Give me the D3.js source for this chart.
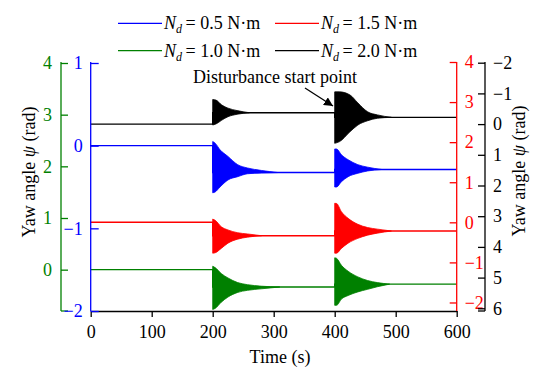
<!DOCTYPE html>
<html><head><meta charset="utf-8">
<script src="https://cdn.jsdelivr.net/npm/d3@7"></script>
<style>body{margin:0;background:#fff} text{font-family:"Liberation Serif","Times New Roman",serif}</style>
</head><body><svg id="c" width="550" height="386"></svg>
<script>
// ---------- data ----------
const xTicks = [0, 100, 200, 300, 400, 500, 600];
const blueTicks = [-2, -1, 0, 1];
const greenTicks = [0, 1, 2, 3, 4];
const redTicks = [-2, -1, 0, 1, 2, 3, 4];
const blackTicks = [-2, -1, 0, 1, 2, 3, 4, 5, 6];

const legendValues = ["0.5", "1.5", "1.0", "2.0"];
const disturbanceTimes = [200, 400];
const levelTimes = [0, 200, 400, 600];
// steady levels in the intervals [0,200], [200,400], [400,600]
const blueLevels = [0, -0.325, -0.288];
const redLevels = [0, -0.334, -0.217];
const greenLevels = [0, -0.335, -0.28];
const blackLevels = [0, -0.371, -0.22];
// oscillation envelopes: [seconds after disturbance, min, max]
const blueBurst200 = [[0,-0.57,0.05],[4,-0.56,0.03],[12,-0.50,-0.05],[25,-0.415,-0.13],[41,-0.375,-0.23],[57,-0.34,-0.27],[80,-0.33,-0.30],[107,-0.325,-0.325]];
const blueBurst400 = [[0,-0.50,-0.04],[3,-0.50,-0.04],[11,-0.436,-0.11],[22,-0.375,-0.17],[38,-0.334,-0.23],[54,-0.306,-0.26],[77,-0.288,-0.288]];
const redBurst200 = [[0,-0.77,0.08],[4,-0.76,0.05],[14,-0.65,-0.11],[25,-0.52,-0.19],[41,-0.42,-0.26],[57,-0.37,-0.29],[80,-0.334,-0.334]];
const redBurst400 = [[0,-0.77,0.475],[3,-0.77,0.47],[11,-0.65,0.265],[22,-0.52,0.10],[38,-0.40,-0.05],[54,-0.32,-0.13],[70,-0.27,-0.17],[93,-0.217,-0.217]];
const greenBurst200 = [[0,-0.77,0.066],[4,-0.75,0.04],[14,-0.63,-0.075],[25,-0.53,-0.16],[41,-0.44,-0.25],[57,-0.40,-0.29],[80,-0.37,-0.32],[110,-0.335,-0.335]];
const greenBurst400 = [[0,-0.69,0.23],[3,-0.69,0.22],[11,-0.57,0.085],[22,-0.50,-0.03],[38,-0.43,-0.14],[54,-0.38,-0.21],[70,-0.33,-0.25],[90,-0.28,-0.28]];
const blackBurst200 = [[0,-0.80,0.03],[5,-0.785,0.0],[15,-0.62,-0.13],[25,-0.52,-0.24],[40,-0.44,-0.32],[60,-0.371,-0.371]];
const blackBurst400 = [[0,-1.05,0.625],[8,-1.05,0.57],[25,-0.95,0.25],[38,-0.69,0.03],[54,-0.40,-0.11],[70,-0.30,-0.19],[93,-0.22,-0.22]];

// ---------- layout ----------
const svg = d3.select("#c");
const plotTop = 62, plotBottom = 311;
const x = d3.scaleLinear([0, 600], [90.7, 456.7]);
const yBlue = d3.scaleLinear([-2, 1], [311, 63]);
const yGreen = d3.scaleLinear([-0.8, 4], [311, 63]);
const yRed = d3.scaleLinear([-2.2, 4], [310.5, 62]);
const yBlack = d3.scaleLinear([-2, 6], [62.7, 308.3]);
const fmt = d3.format("d");

const COL = {blue: "#0000ff", red: "#ff0000", green: "#008000", black: "#000000"};
const FS = 18;

function styleAxis(g, color) {
  g.attr("font-size", FS).attr("font-family", '"Liberation Serif","Times New Roman",serif')
   .attr("color", color);
  g.selectAll(".tick line").attr("stroke-width", 1.3);
  g.select(".domain").remove();
}
function vline(xp, color) {
  svg.append("line").attr("x1", xp).attr("x2", xp).attr("y1", plotTop).attr("y2", plotBottom)
    .attr("stroke", color).attr("stroke-width", 1.3);
}
function hstub(x1, x2, yp, color) {
  svg.append("line").attr("x1", x1).attr("x2", x2).attr("y1", yp).attr("y2", yp)
    .attr("stroke", color).attr("stroke-width", 1.3);
}

// ---------- series ----------
const series = [
  {c: COL.black, y: yBlack, levels: blackLevels, bursts: [blackBurst200, blackBurst400]},
  {c: COL.blue, y: yBlue, levels: blueLevels, bursts: [blueBurst200, blueBurst400]},
  {c: COL.red, y: yRed, levels: redLevels, bursts: [redBurst200, redBurst400]},
  {c: COL.green, y: yGreen, levels: greenLevels, bursts: [greenBurst200, greenBurst400]}
];
series.forEach(s => {
  const pts = [];
  s.levels.forEach((v, i) => { pts.push([levelTimes[i], v]); pts.push([levelTimes[i + 1], v]); });
  svg.append("path").attr("d", d3.line().x(d => x(d[0])).y(d => s.y(d[1]))(pts))
    .attr("fill", "none").attr("stroke", s.c).attr("stroke-width", 1.4);
  s.bursts.forEach((b, i) => {
    const t0 = disturbanceTimes[i];
    const area = d3.area().curve(d3.curveMonotoneX)
      .x(d => x(t0 + d[0])).y0(d => s.y(d[1])).y1(d => s.y(d[2]));
    svg.append("path").attr("d", area(b)).attr("fill", s.c).attr("stroke", s.c).attr("stroke-width", 0.8);
  });
});

// ---------- axes ----------
const gx = svg.append("g").attr("transform", `translate(0,${plotBottom})`)
  .call(d3.axisBottom(x).tickValues(xTicks).tickFormat(fmt).tickSizeInner(6).tickSizeOuter(0).tickPadding(8.5));
gx.attr("font-size", FS).attr("font-family", '"Liberation Serif","Times New Roman",serif');
gx.select(".domain").attr("stroke-width", 1.3);
gx.selectAll(".tick line").attr("stroke-width", 1.3);

const gG = svg.append("g").attr("transform", "translate(61,0)")
  .call(d3.axisLeft(yGreen).tickValues(greenTicks).tickFormat(fmt).tickSizeInner(-7).tickSizeOuter(0).tickPadding(9));
styleAxis(gG, COL.green);
vline(61, COL.green); hstub(61, 68, plotBottom, COL.green);

const gB = svg.append("g").attr("transform", `translate(${x(0)},0)`)
  .call(d3.axisLeft(yBlue).tickValues(blueTicks).tickFormat(fmt).tickSizeInner(-8).tickSizeOuter(0).tickPadding(8));
styleAxis(gB, COL.blue);
vline(x(0), COL.blue);

const gR = svg.append("g").attr("transform", `translate(${x(600)},0)`)
  .call(d3.axisRight(yRed).tickValues(redTicks).tickFormat(fmt).tickSizeInner(-7).tickSizeOuter(0).tickPadding(8));
styleAxis(gR, COL.red);
vline(x(600), COL.red);

const gK = svg.append("g").attr("transform", "translate(485,0)")
  .call(d3.axisRight(yBlack).tickValues(blackTicks).tickFormat(fmt).tickSizeInner(-7).tickSizeOuter(0).tickPadding(8));
styleAxis(gK, COL.black);
vline(485, COL.black); hstub(478, 485, plotBottom, COL.black);

function yawLabel(cx, cy) {
  const t = svg.append("text").attr("transform", `translate(${cx},${cy}) rotate(-90)`)
    .attr("text-anchor", "middle").attr("dominant-baseline", "central").attr("font-size", FS);
  t.append("tspan").text("Yaw angle ");
  t.append("tspan").attr("font-style", "italic").text("ψ");
  t.append("tspan").text(" (rad)");
}
yawLabel(29, 172);
yawLabel(519, 171);
svg.append("text").attr("x", 280).attr("y", 363).attr("text-anchor", "middle")
  .attr("font-size", FS).text("Time (s)");

// ---------- legend ----------
const legendColors = [COL.blue, COL.red, COL.green, COL.black];
const legX = [118, 275], legY = [23.3, 50.7];
legendValues.forEach((v, i) => {
  const lx = legX[i % 2], ly = legY[Math.floor(i / 2)];
  svg.append("line").attr("x1", lx).attr("x2", lx + 44).attr("y1", ly).attr("y2", ly)
    .attr("stroke", legendColors[i]).attr("stroke-width", 1.3);
  const t = svg.append("text").attr("x", lx + 46).attr("y", ly + 6).attr("font-size", FS);
  t.append("tspan").attr("font-style", "italic").text("N");
  t.append("tspan").attr("font-style", "italic").attr("font-size", 12).attr("dy", 4).text("d");
  t.append("tspan").attr("dy", -4).text("\u2009= " + v + " N\u00b7m");
});

// ---------- annotation ----------
svg.append("defs").append("marker").attr("id", "ah").attr("viewBox", "0 0 10 10")
  .attr("refX", 10).attr("refY", 5).attr("markerWidth", 9).attr("markerHeight", 9)
  .attr("markerUnits", "userSpaceOnUse").attr("orient", "auto")
  .append("path").attr("d", "M0,0L10,5L0,10z").attr("fill", "#000");
svg.append("text").attr("x", 275).attr("y", 82.5).attr("text-anchor", "middle")
  .attr("font-size", FS).text("Disturbance start point");
svg.append("line").attr("x1", 305).attr("y1", 88).attr("x2", 333).attr("y2", 106)
  .attr("stroke", "#000").attr("stroke-width", 1.3).attr("marker-end", "url(#ah)");
</script></body></html>
